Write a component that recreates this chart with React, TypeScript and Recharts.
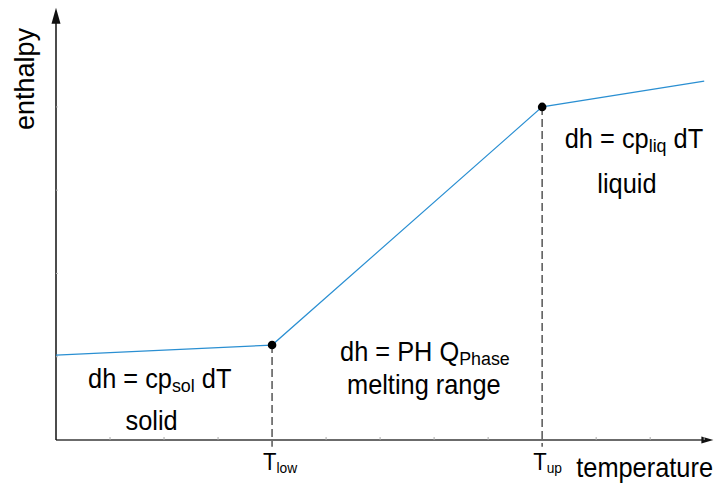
import React from 'react';
import { LineChart, Line, XAxis, YAxis, ReferenceLine, ReferenceDot, Label } from 'recharts';

// ---- data ----
const temperature = [0, 4, 9, 12];
const enthalpy = [1.02, 1.14, 4.0, 4.31];
const xTicks = [1, 2, 3, 4, 5, 6, 7, 8, 9, 10, 11, 12];
const yTicks = [1, 2, 3, 4];
const phaseTemps = [4, 9];
const phaseEnthalpy = [1.14, 4.0];
const phaseSubs = ['low', 'up'];

// annotation texts
const annMain = ['dh = cp', 'solid', 'dh = PH Q', 'melting range', 'dh = cp', 'liquid'];
const annSub = ['sol', '', 'Phase', '', 'liq', ''];
const annTail = [' dT', '', '', '', ' dT', ''];
// annotation anchors (data units)
const annX = [1.92, 1.77, 6.83, 6.81, 10.7, 10.57];
const annY = [0.625, 0.12, 0.95, 0.55, 3.507, 2.966];

const X_MAX = 12.2;
const Y_MAX = 5.2;

const data = temperature.map((t, i) => ({ t, h: enthalpy[i] }));

const FONT = '"Liberation Sans", Arial, Helvetica, sans-serif';
const SX = 0.94;

const XArrow = (p: any) => {
  const { x1, y1, x2, y2 } = p;
  return (
    <g>
      <line x1={x1} y1={y1} x2={x2 - 8} y2={y2} stroke="#3a3a3a" strokeWidth={1.5} />
      <polygon points={`${x2},${y2} ${x2 - 12},${y2 - 3.5} ${x2 - 12},${y2 + 3.5}`} fill="#111" />
    </g>
  );
};

const YArrow = (p: any) => {
  const { x1, y1, x2, y2 } = p;
  const tipY = Math.min(y1, y2);
  const baseY = Math.max(y1, y2);
  return (
    <g>
      <line x1={x1} y1={baseY} x2={x2} y2={tipY + 10} stroke="#111" strokeWidth={1.5} />
      <polygon points={`${x1},${tipY} ${x1 - 4.5},${tipY + 16} ${x1 + 4.5},${tipY + 16}`} fill="#111" />
    </g>
  );
};

const XTick = (props: any) => {
  const { x, y, payload } = props;
  const i = phaseTemps.indexOf(payload.value);
  if (i < 0) {
    return <line x1={x} x2={x} y1={y} y2={y - 3} stroke="#aaa" strokeWidth={1} />;
  }
  return (
    <text
      transform={`translate(${x - 9},${y + 30}) scale(0.92,1)`}
      fontFamily={FONT}
      fontSize={24}
      fill="#000"
      textAnchor="start"
    >
      <tspan>T</tspan>
      <tspan fontSize={15} dy={3}>{phaseSubs[i]}</tspan>
    </text>
  );
};

const YTick = (props: any) => {
  const { x, y } = props;
  return <line x1={x} x2={x + 2} y1={y} y2={y} stroke="#bbb" strokeWidth={1} />;
};

const makeAnn = (i: number) => (p: any) => {
  const { cx, cy } = p;
  return (
    <text
      transform={`translate(${cx},${cy}) scale(${SX},1)`}
      fontFamily={FONT}
      fontSize={27}
      fill="#000"
      textAnchor="middle"
      style={{ whiteSpace: 'pre' }}
    >
      <tspan>{annMain[i]}</tspan>
      {annSub[i] ? <tspan fontSize={19} dy={4}>{annSub[i]}</tspan> : null}
      {annTail[i] ? <tspan dy={-4}>{annTail[i]}</tspan> : null}
    </text>
  );
};

const renderDot = (p: any) => {
  const { cx, cy, index } = p;
  if (index === 1 || index === 2) {
    return <circle key={`d${index}`} cx={cx} cy={cy} r={4.3} fill="#000" />;
  }
  return <g key={`d${index}`} />;
};

export default function App() {
  return (
    <div style={{ position: 'absolute', left: 0, top: 0, background: '#fff' }}>
      <LineChart
        width={719}
        height={485}
        data={data}
        margin={{ top: 7, right: 4, bottom: 0, left: 0 }}
      >
        <XAxis
          dataKey="t"
          type="number"
          domain={[0, X_MAX]}
          ticks={xTicks}
          interval={0}
          height={45}
          axisLine={false}
          tickLine={false}
          tickSize={0}
          tickMargin={0}
          tick={<XTick />}
        >
          <Label
            content={(props: any) => {
              const vb = props.viewBox || { x: 56, y: 440, width: 659, height: 45 };
              return (
                <text
                  transform={`translate(${vb.x + vb.width - 2},${vb.y + 37}) scale(${SX},1)`}
                  fontFamily={FONT}
                  fontSize={27}
                  fill="#000"
                  textAnchor="end"
                >
                  temperature
                </text>
              );
            }}
          />
        </XAxis>
        <YAxis
          type="number"
          domain={[0, Y_MAX]}
          ticks={yTicks}
          interval={0}
          width={56}
          axisLine={false}
          tickLine={false}
          tickSize={0}
          tickMargin={0}
          tick={<YTick />}
        >
          <Label
            content={(props: any) => {
              const vb = props.viewBox || { x: 0, y: 7, width: 56, height: 433 };
              return (
                <text
                  transform={`translate(${vb.x + 34},${vb.y + 72}) rotate(-90)`}
                  fontFamily={FONT}
                  fontSize={27}
                  fill="#000"
                  textAnchor="middle"
                >
                  enthalpy
                </text>
              );
            }}
          />
        </YAxis>

        {phaseTemps.map((t, i) => (
          <ReferenceLine
            key={`v${i}`}
            segment={[{ x: t, y: phaseEnthalpy[i] }, { x: t, y: -0.08 }]}
            stroke="#555"
            strokeWidth={1.5}
            strokeDasharray="8 4"
            ifOverflow="visible"
          />
        ))}

        <ReferenceLine
          segment={[{ x: 0, y: 0 }, { x: 12.17, y: 0 }]}
          ifOverflow="visible"
          shape={XArrow}
        />
        <ReferenceLine
          segment={[{ x: 0, y: 0 }, { x: 0, y: 5.19 }]}
          ifOverflow="visible"
          shape={YArrow}
        />

        <Line
          dataKey="h"
          stroke="#2a8fd2"
          strokeWidth={1.2}
          dot={renderDot}
          activeDot={false}
          isAnimationActive={false}
        />

        {annMain.map((_, i) => (
          <ReferenceDot
            key={`a${i}`}
            x={annX[i]}
            y={annY[i]}
            r={0}
            ifOverflow="visible"
            shape={makeAnn(i)}
          />
        ))}
      </LineChart>
    </div>
  );
}
